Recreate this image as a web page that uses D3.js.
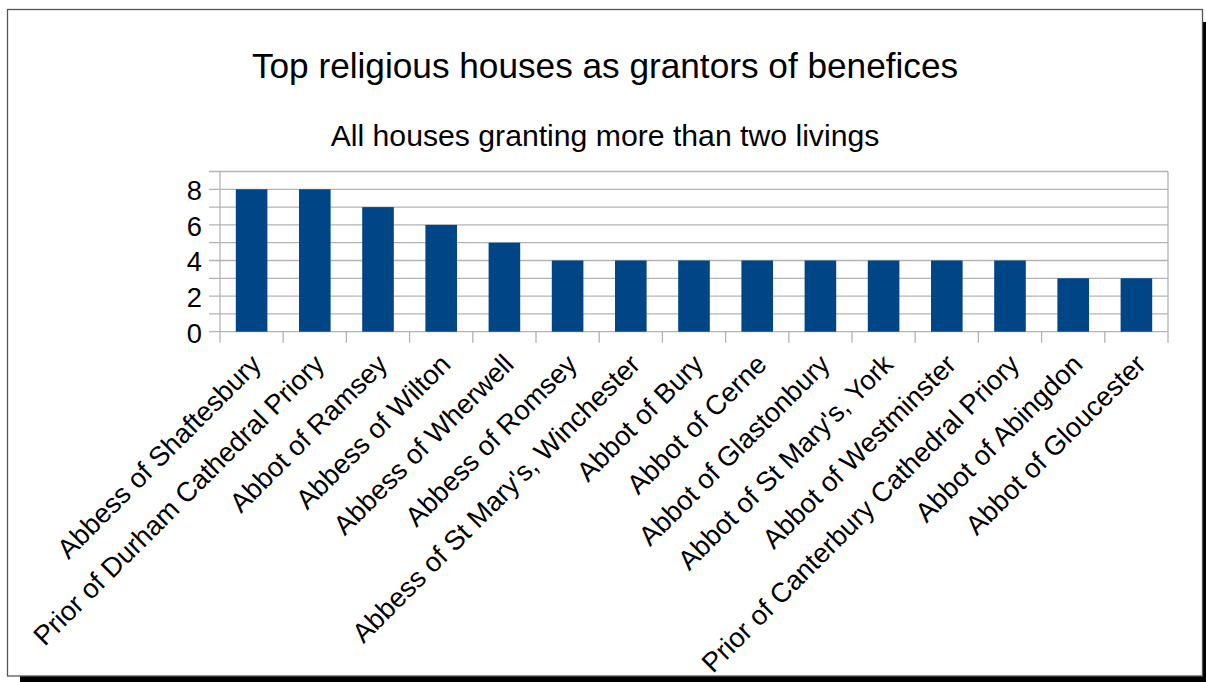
<!DOCTYPE html>
<html>
<head>
<meta charset="utf-8">
<script src="https://cdn.jsdelivr.net/npm/d3@7"></script>
<style>
  html, body { margin: 0; padding: 0; background: #ffffff; }
  svg { display: block; font-family: "Liberation Sans", Arial, sans-serif; }
</style>
</head>
<body>
<svg id="chart" width="1206" height="682"></svg>
<script>
// Religious houses granting more than two livings
const houses = [
  "Abbess of Shaftesbury",
  "Prior of Durham Cathedral Priory",
  "Abbot of Ramsey",
  "Abbess of Wilton",
  "Abbess of Wherwell",
  "Abbess of Romsey",
  "Abbess of St Mary's, Winchester",
  "Abbot of Bury",
  "Abbot of Cerne",
  "Abbot of Glastonbury",
  "Abbot of St Mary's, York",
  "Abbot of Westminster",
  "Prior of Canterbury Cathedral Priory",
  "Abbot of Abingdon",
  "Abbot of Gloucester"
];
const livings = [8, 8, 7, 6, 5, 4, 4, 4, 4, 4, 4, 4, 4, 3, 3];
const yTicks = [0, 1, 2, 3, 4, 5, 6, 7, 8, 9];
const yLabels = [0, 2, 4, 6, 8];

const titleText = "Top religious houses as grantors of benefices";
const subtitleText = "All houses granting more than two livings";

const svg = d3.select("#chart");

// Page frame with drop shadow
svg.append("rect").attr("x", 20).attr("y", 22).attr("width", 1200).attr("height", 670).attr("fill", "#000");
svg.append("rect").attr("x", 7.5).attr("y", 9.5).attr("width", 1195).attr("height", 666.5)
  .attr("fill", "#fff").attr("stroke", "#555").attr("stroke-width", 1.3);

// Titles
svg.append("text").attr("x", 605).attr("y", 78).attr("text-anchor", "middle")
  .attr("font-size", 35.2).attr("fill", "#000").text(titleText);
svg.append("text").attr("x", 605).attr("y", 146).attr("text-anchor", "middle")
  .attr("font-size", 30.2).attr("fill", "#000").text(subtitleText);

// Plot area
const plotLeft = 220, plotRight = 1168, plotTop = 171.5, plotBottom = 331.7;
const tickLen = 11;

const x = d3.scaleBand().domain(houses).range([plotLeft, plotRight]).paddingInner(0.5).paddingOuter(0.25);
const y = d3.scaleLinear().domain([0, 9]).range([plotBottom, plotTop]);
const edge = d3.scaleLinear().domain([0, houses.length]).range([plotLeft, plotRight]);

const grid = "#b3b3b3";

// Horizontal grid lines, extended left as tick marks
svg.append("g").selectAll("line").data(yTicks).join("line")
  .attr("x1", plotLeft - tickLen).attr("x2", plotRight)
  .attr("y1", d => y(d)).attr("y2", d => y(d))
  .attr("stroke", grid).attr("stroke-width", 1.3);

// Category boundary tick marks below the axis
svg.append("g").selectAll("line").data(d3.range(houses.length + 1)).join("line")
  .attr("x1", d => edge(d)).attr("x2", d => edge(d))
  .attr("y1", d => (d === 0 || d === houses.length) ? plotTop : plotBottom)
  .attr("y2", plotBottom + tickLen)
  .attr("stroke", grid).attr("stroke-width", 1.3);

// Bars
svg.append("g").selectAll("rect").data(livings).join("rect")
  .attr("x", (d, i) => x(houses[i]))
  .attr("width", x.bandwidth())
  .attr("y", d => y(d))
  .attr("height", d => y(0) - y(d))
  .attr("fill", "#004586");

// Y axis labels
svg.append("g").selectAll("text").data(yLabels).join("text")
  .attr("x", plotLeft - tickLen - 7)
  .attr("y", d => y(d))
  .attr("dy", "0.40em")
  .attr("text-anchor", "end")
  .attr("font-size", 27.3)
  .attr("fill", "#000")
  .text(d => d);

// Rotated category labels
svg.append("g").selectAll("text").data(houses).join("text")
  .attr("transform", d => `translate(${x(d) + x.bandwidth() / 2 + 11},366) rotate(-45)`)
  .attr("text-anchor", "end")
  .attr("font-size", 27.3)
  .attr("fill", "#000")
  .text(d => d);
</script>
</body>
</html>
